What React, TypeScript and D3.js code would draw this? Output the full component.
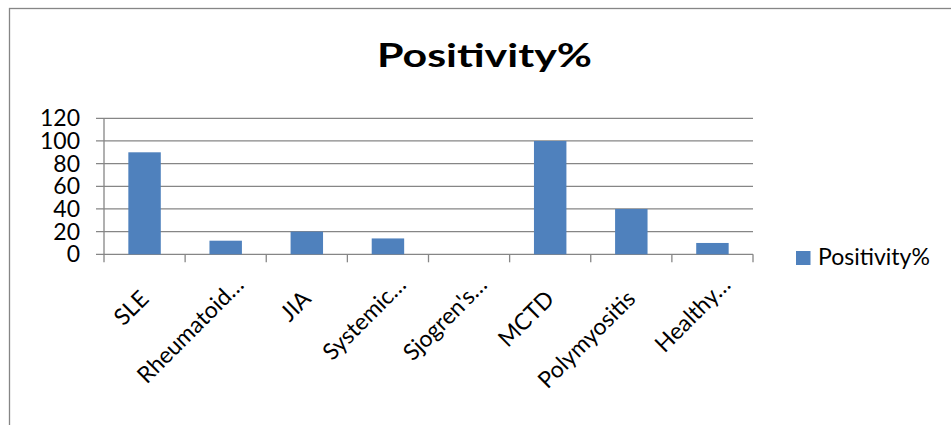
import React from "react";
import * as d3 from "d3";

const categories = ["SLE", "Rheumatoid…", "JIA", "Systemic…", "Sjogren's…", "MCTD", "Polymyositis", "Healthy…"];
const values = [90, 12, 20, 14, 0, 100, 40, 10];
const yTicks = [0, 20, 40, 60, 80, 100, 120];
const seriesName = "Positivity%";
const title = "Positivity%";

const W = 951;
const H = 425;
const plotLeft = 104;
const plotRight = 753;
const plotTop = 118.3;
const plotBottom = 254.3;
const FONT = "Lato, Carlito, Calibri, sans-serif";
const BAR = "#4F81BD";
const GRID = "#868686";
const TICK = 8;

export default function App() {
  const x = d3.scaleBand<string>().domain(categories).range([plotLeft, plotRight]).paddingInner(0.6).paddingOuter(0.3);
  const band = d3.scaleBand<string>().domain(categories).range([plotLeft, plotRight]);
  const y = d3.scaleLinear().domain([0, 120]).range([plotBottom, plotTop]);

  return (
    <svg width={W} height={H} style={{ position: "absolute", left: 0, top: 0, background: "#fff" }}>
      <rect x={9.5} y={8.5} width={1000} height={600} fill="#fff" stroke={GRID} strokeWidth={1.3} />
      <text x={484.5} y={66.7} textAnchor="middle" fontFamily={FONT} fontWeight={700} fontSize={32.5} textLength={215} lengthAdjust="spacingAndGlyphs" fill="#000">
        {title}
      </text>
      {yTicks.map((t) => (
        <g key={t}>
          <line x1={plotLeft - TICK} x2={plotRight} y1={y(t)} y2={y(t)} stroke={GRID} strokeWidth={1.3} />
          <text x={80} y={y(t)} dy="0.35em" textAnchor="end" fontFamily={FONT} fontSize={23} fill="#000">
            {t}
          </text>
        </g>
      ))}
      <line x1={plotLeft} x2={plotLeft} y1={plotTop} y2={plotBottom + TICK} stroke={GRID} strokeWidth={1.3} />
      {categories.map((c, i) => (
        <line key={"t" + i} x1={band(c)! + band.bandwidth()} x2={band(c)! + band.bandwidth()} y1={plotBottom} y2={plotBottom + TICK} stroke={GRID} strokeWidth={1.3} />
      ))}
      {categories.map((c, i) => (
        <rect key={"b" + i} x={x(c)} y={y(values[i])} width={x.bandwidth()} height={plotBottom - y(values[i])} fill={BAR} />
      ))}
      {categories.map((c, i) => {
        const cx = band(c)! + band.bandwidth() / 2;
        const extra = c.endsWith("…") ? 14 : 0;
        return (
          <text key={"l" + i} transform={`translate(${cx + 5.5 + extra},${plotBottom + 46 - extra}) rotate(-45)`} textAnchor="end" fontFamily={FONT} fontSize={23} fill="#000">
            {c}
          </text>
        );
      })}
      <rect x={796} y={251} width={14.5} height={14} fill={BAR} />
      <text x={818} y={265} fontFamily={FONT} fontSize={23} fill="#000">
        {seriesName}
      </text>
    </svg>
  );
}
